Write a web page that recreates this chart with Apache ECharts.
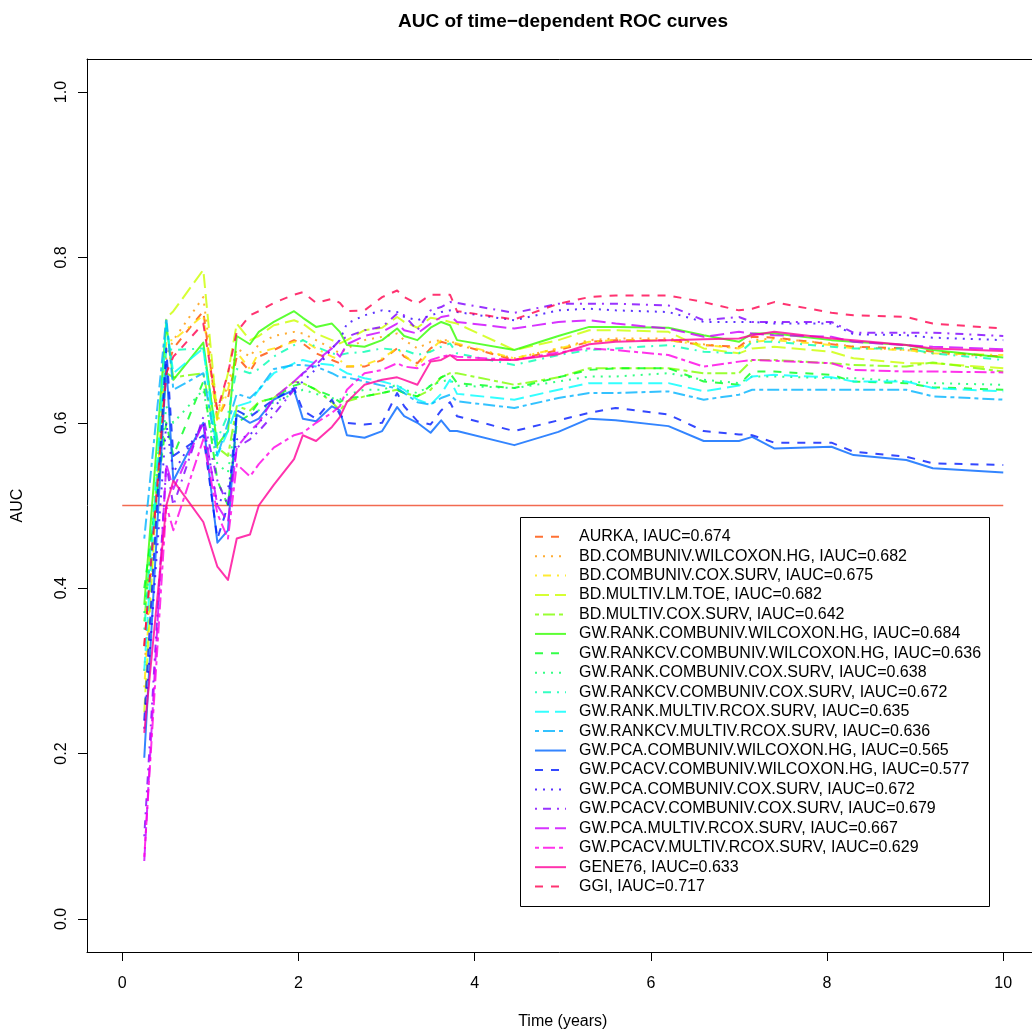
<!DOCTYPE html>
<html><head><meta charset="utf-8">
<script src="https://cdn.jsdelivr.net/npm/echarts@6/dist/echarts.min.js"></script>
<style>html,body{margin:0;padding:0;background:#fff}#c{width:1032px;height:1032px}</style>
</head><body><div id="c"></div>
<script>
// ---- data ----
const times = [0.25,0.5,0.58,0.92,1.08,1.2,1.3,1.45,1.55,1.72,1.95,2.05,2.2,2.38,2.47,2.55,2.75,2.95,3.12,3.2,3.35,3.5,3.62,3.72,3.8,4.45,4.95,5.3,5.6,6.2,6.6,7.0,7.15,7.4,8.05,8.3,8.9,9.2,10.0];

const aurka          = [0.33,0.66,0.69,0.735,0.605,0.63,0.68,0.662,0.68,0.688,0.70,0.696,0.684,0.676,0.672,0.668,0.668,0.676,0.69,0.68,0.672,0.69,0.698,0.695,0.695,0.676,0.688,0.698,0.70,0.70,0.694,0.692,0.704,0.703,0.695,0.692,0.69,0.686,0.68];
const bdCombWil      = [0.30,0.68,0.70,0.752,0.615,0.645,0.69,0.68,0.695,0.705,0.71,0.708,0.70,0.69,0.684,0.69,0.70,0.704,0.708,0.70,0.69,0.698,0.70,0.70,0.694,0.678,0.69,0.70,0.702,0.702,0.695,0.69,0.70,0.702,0.696,0.692,0.688,0.684,0.68];
const bdCombCox      = [0.28,0.70,0.70,0.73,0.60,0.64,0.685,0.665,0.685,0.69,0.698,0.70,0.69,0.68,0.676,0.668,0.67,0.678,0.69,0.682,0.668,0.688,0.70,0.698,0.696,0.678,0.69,0.698,0.70,0.70,0.694,0.69,0.698,0.70,0.694,0.69,0.688,0.684,0.682];
const bdMultLm       = [0.25,0.727,0.735,0.785,0.607,0.66,0.72,0.70,0.705,0.718,0.724,0.72,0.708,0.70,0.696,0.70,0.712,0.715,0.728,0.722,0.715,0.727,0.725,0.722,0.72,0.688,0.70,0.712,0.712,0.71,0.69,0.684,0.69,0.692,0.686,0.678,0.672,0.672,0.666];
const bdMultCox      = [0.36,0.66,0.655,0.66,0.57,0.56,0.62,0.615,0.625,0.63,0.65,0.648,0.64,0.625,0.615,0.626,0.632,0.636,0.64,0.636,0.632,0.64,0.655,0.66,0.66,0.646,0.655,0.666,0.666,0.666,0.66,0.66,0.676,0.676,0.672,0.67,0.668,0.673,0.662];
const gwRankCombWil  = [0.38,0.72,0.652,0.697,0.573,0.59,0.705,0.695,0.71,0.722,0.735,0.727,0.716,0.72,0.71,0.694,0.692,0.70,0.714,0.705,0.70,0.715,0.722,0.718,0.70,0.688,0.705,0.716,0.716,0.715,0.706,0.698,0.708,0.708,0.70,0.698,0.694,0.688,0.679];
const gwRankcvCombWil= [0.40,0.60,0.56,0.65,0.53,0.50,0.60,0.61,0.625,0.63,0.645,0.648,0.64,0.632,0.625,0.63,0.632,0.636,0.64,0.636,0.632,0.645,0.655,0.66,0.648,0.642,0.655,0.664,0.666,0.666,0.65,0.646,0.662,0.662,0.658,0.65,0.648,0.643,0.64];
const gwRankCombCox  = [0.37,0.62,0.60,0.64,0.55,0.54,0.61,0.61,0.615,0.625,0.635,0.64,0.635,0.63,0.628,0.634,0.64,0.64,0.646,0.64,0.636,0.645,0.65,0.652,0.645,0.642,0.65,0.656,0.656,0.66,0.652,0.648,0.656,0.656,0.654,0.654,0.65,0.648,0.646];
const gwRankcvCombCox= [0.35,0.69,0.688,0.69,0.58,0.61,0.665,0.66,0.665,0.68,0.694,0.70,0.692,0.684,0.682,0.684,0.686,0.69,0.688,0.688,0.682,0.686,0.692,0.696,0.684,0.67,0.682,0.688,0.69,0.694,0.686,0.684,0.698,0.698,0.692,0.69,0.69,0.684,0.676];
const gwRankMultRcox = [0.30,0.72,0.66,0.69,0.56,0.59,0.62,0.625,0.64,0.66,0.672,0.676,0.672,0.67,0.665,0.66,0.654,0.65,0.645,0.64,0.628,0.622,0.635,0.652,0.635,0.628,0.64,0.648,0.648,0.648,0.638,0.645,0.656,0.658,0.655,0.65,0.65,0.642,0.638];
const gwRankcvMultRcox=[0.46,0.727,0.64,0.66,0.56,0.60,0.635,0.63,0.64,0.665,0.67,0.67,0.668,0.66,0.655,0.655,0.65,0.645,0.642,0.636,0.625,0.622,0.63,0.634,0.626,0.618,0.63,0.636,0.636,0.638,0.628,0.634,0.64,0.64,0.64,0.64,0.64,0.632,0.628];
const gwPcaCombWil   = [0.195,0.67,0.53,0.60,0.455,0.47,0.61,0.60,0.605,0.628,0.64,0.605,0.602,0.62,0.615,0.585,0.582,0.59,0.619,0.608,0.60,0.588,0.603,0.59,0.59,0.573,0.589,0.605,0.603,0.596,0.578,0.578,0.583,0.569,0.571,0.561,0.555,0.545,0.54];
const gwPcacvCombWil = [0.24,0.69,0.56,0.585,0.46,0.50,0.615,0.607,0.615,0.628,0.642,0.615,0.605,0.628,0.61,0.60,0.598,0.60,0.636,0.62,0.602,0.598,0.615,0.625,0.608,0.59,0.603,0.612,0.618,0.61,0.59,0.586,0.585,0.576,0.576,0.565,0.559,0.551,0.549];
const gwPcaCombCox   = [0.23,0.60,0.54,0.60,0.50,0.52,0.58,0.585,0.60,0.62,0.64,0.65,0.665,0.69,0.70,0.72,0.73,0.736,0.734,0.728,0.724,0.73,0.734,0.736,0.734,0.724,0.736,0.738,0.736,0.734,0.722,0.722,0.722,0.72,0.72,0.707,0.706,0.703,0.70];
const gwPcacvCombCox = [0.10,0.55,0.50,0.607,0.53,0.50,0.57,0.58,0.59,0.61,0.64,0.66,0.67,0.69,0.70,0.704,0.712,0.716,0.732,0.73,0.712,0.736,0.74,0.746,0.745,0.733,0.744,0.744,0.744,0.742,0.724,0.728,0.722,0.722,0.722,0.709,0.709,0.709,0.705];
const gwPcaMultRcox  = [0.07,0.55,0.52,0.60,0.50,0.48,0.57,0.59,0.60,0.63,0.65,0.66,0.675,0.69,0.68,0.695,0.705,0.71,0.72,0.712,0.708,0.72,0.728,0.73,0.722,0.714,0.722,0.724,0.72,0.714,0.704,0.71,0.708,0.706,0.704,0.698,0.694,0.692,0.689];
const gwPcacvMultRcox= [0.075,0.50,0.47,0.58,0.49,0.46,0.55,0.535,0.55,0.57,0.585,0.588,0.60,0.612,0.62,0.64,0.66,0.664,0.672,0.668,0.666,0.676,0.68,0.682,0.68,0.676,0.685,0.69,0.688,0.682,0.668,0.674,0.676,0.675,0.672,0.664,0.662,0.662,0.661];
const gene76         = [0.225,0.50,0.53,0.48,0.426,0.41,0.46,0.465,0.50,0.525,0.556,0.585,0.578,0.595,0.607,0.625,0.646,0.652,0.655,0.652,0.646,0.674,0.676,0.682,0.676,0.676,0.683,0.695,0.698,0.70,0.701,0.702,0.706,0.71,0.702,0.70,0.694,0.69,0.687];
const ggi            = [0.33,0.66,0.68,0.72,0.615,0.66,0.71,0.73,0.735,0.745,0.755,0.758,0.745,0.75,0.745,0.735,0.736,0.752,0.76,0.752,0.744,0.755,0.755,0.755,0.735,0.725,0.744,0.752,0.754,0.754,0.746,0.736,0.738,0.746,0.733,0.73,0.728,0.72,0.714];

const seriesNames = [
  'AURKA, IAUC=0.674',
  'BD.COMBUNIV.WILCOXON.HG, IAUC=0.682',
  'BD.COMBUNIV.COX.SURV, IAUC=0.675',
  'BD.MULTIV.LM.TOE, IAUC=0.682',
  'BD.MULTIV.COX.SURV, IAUC=0.642',
  'GW.RANK.COMBUNIV.WILCOXON.HG, IAUC=0.684',
  'GW.RANKCV.COMBUNIV.WILCOXON.HG, IAUC=0.636',
  'GW.RANK.COMBUNIV.COX.SURV, IAUC=0.638',
  'GW.RANKCV.COMBUNIV.COX.SURV, IAUC=0.672',
  'GW.RANK.MULTIV.RCOX.SURV, IAUC=0.635',
  'GW.RANKCV.MULTIV.RCOX.SURV, IAUC=0.636',
  'GW.PCA.COMBUNIV.WILCOXON.HG, IAUC=0.565',
  'GW.PCACV.COMBUNIV.WILCOXON.HG, IAUC=0.577',
  'GW.PCA.COMBUNIV.COX.SURV, IAUC=0.672',
  'GW.PCACV.COMBUNIV.COX.SURV, IAUC=0.679',
  'GW.PCA.MULTIV.RCOX.SURV, IAUC=0.667',
  'GW.PCACV.MULTIV.RCOX.SURV, IAUC=0.629',
  'GENE76, IAUC=0.633',
  'GGI, IAUC=0.717'
];
const seriesValues = [aurka,bdCombWil,bdCombCox,bdMultLm,bdMultCox,gwRankCombWil,gwRankcvCombWil,gwRankCombCox,gwRankcvCombCox,gwRankMultRcox,gwRankcvMultRcox,gwPcaCombWil,gwPcacvCombWil,gwPcaCombCox,gwPcacvCombCox,gwPcaMultRcox,gwPcacvMultRcox,gene76,ggi];
const refLevel = 0.5;
const xTickRange = [0, 10, 2];     // min, max, step of x tick labels
const yTickRange = [0, 1, 0.2];    // min, max, step of y tick labels

// ---- styles ----
const colors = ['#FF4D00','#FF9900','#FFE600','#CCFF00','#80FF00','#33FF00','#00FF1A','#00FF66','#00FFB3','#00FFFF',
                '#00B3FF','#0066FF','#001AFF','#3300FF','#8000FF','#CC00FF','#FF00E6','#FF0099','#FF004D'];
const DASH = {solid:'solid', dashed:[8,8], dotted:[2,6], dotdash:[2,6,8,6], longdash:[14,6], twodash:[4,4,12,4]};
const ltyCycle = ['dashed','dotted','dotdash','longdash','twodash','solid'];
function rgba(hex, a){const n=parseInt(hex.slice(1),16);return `rgba(${n>>16},${(n>>8)&255},${n&255},${a})`;}

const FONT = 'Liberation Sans, Arial, Helvetica, sans-serif';
const chart = echarts.init(document.getElementById('c'), null, {renderer:'canvas'});

const series = [{
  type:'line', name:'ref', data:[[0,refLevel],[10,refLevel]], symbol:'none', silent:true,
  lineStyle:{color:'#F26A50', width:1.5}, itemStyle:{color:'#F26A50'}, z:1
}];
seriesValues.forEach((vals, i) => {
  const c = rgba(colors[i], 0.8);
  series.push({
    type:'line', name:seriesNames[i], data: times.map((t,k)=>[t, vals[k]]),
    symbol:'none', showSymbol:false,
    lineStyle:{color:c, width:2, type:DASH[ltyCycle[i % 6]], cap:'butt', join:'round'},
    itemStyle:{color:c}, z:2
  });
});

// Plot frame: x from -0.4..10.4, y from -0.04..1.04 (R's 4% padding)
const XMIN = -0.4, XMAX = 10.4, YMIN = -0.04, YMAX = 1.04;
const PL = 87, PT = 59, PW = 951.5, PH = 893;
const pxX = v => PL + (v - XMIN) / (XMAX - XMIN) * PW;
const pxY = v => PT + (YMAX - v) / (YMAX - YMIN) * PH;

const axisText = {fontSize:16, fontFamily:FONT, color:'#000'};
const hidden = {show:false};
chart.setOption({
  animation:false,
  backgroundColor:'#fff',
  title:{text:'AUC of time\u2212dependent ROC curves', left:558, top:7, textAlign:'center',
    textStyle:{fontSize:19, fontWeight:'bold', fontFamily:FONT, color:'#000'}},
  grid:[
    {left:PL, top:PT, width:PW, height:PH, outerBoundsMode:'none'},
    // tick grid for x: spans exactly the tick range horizontally
    {left:pxX(xTickRange[0]), width:pxX(xTickRange[1]) - pxX(xTickRange[0]), top:PT, height:PH, outerBoundsMode:'none'},
    // tick grid for y: spans exactly the tick range vertically
    {left:PL, width:PW, top:pxY(yTickRange[1]), height:pxY(yTickRange[0]) - pxY(yTickRange[1]), outerBoundsMode:'none'}
  ],
  xAxis:[
    {gridIndex:0, type:'value', min:XMIN, max:XMAX, position:'bottom',
     name:'Time (years)', nameLocation:'middle', nameGap:62, nameTextStyle:axisText,
     axisLine:{show:true, onZero:false, lineStyle:{color:'#000', width:1}},
     axisTick:hidden, axisLabel:hidden, splitLine:hidden},
    {gridIndex:0, type:'value', min:XMIN, max:XMAX, position:'top',
     axisLine:{show:true, onZero:false, lineStyle:{color:'#000', width:1}},
     axisTick:hidden, axisLabel:hidden, splitLine:hidden},
    {gridIndex:1, type:'value', min:xTickRange[0], max:xTickRange[1], interval:xTickRange[2], position:'bottom',
     axisLine:{show:false}, splitLine:hidden,
     axisTick:{show:true, length:9, lineStyle:{color:'#000', width:1}},
     axisLabel:Object.assign({margin:24}, axisText)},
    {gridIndex:2, type:'value', min:0, max:1, show:false}
  ],
  yAxis:[
    {gridIndex:0, type:'value', min:YMIN, max:YMAX, position:'left',
     name:'AUC', nameLocation:'middle', nameGap:61, nameRotate:90, nameTextStyle:axisText,
     axisLine:{show:true, onZero:false, lineStyle:{color:'#000', width:1}},
     axisTick:hidden, axisLabel:hidden, splitLine:hidden},
    {gridIndex:1, type:'value', min:0, max:1, show:false},
    {gridIndex:2, type:'value', min:yTickRange[0], max:yTickRange[1], interval:yTickRange[2], position:'left',
     axisLine:{show:false}, splitLine:hidden,
     axisTick:{show:true, length:9, lineStyle:{color:'#000', width:1}},
     axisLabel:Object.assign({rotate:90, margin:17, formatter:v=>v.toFixed(1)}, axisText)}
  ],
  legend:{orient:'vertical', left:534, top:528.7, padding:0, itemWidth:31, itemHeight:14, itemGap:3.44,
    data:seriesNames, selectedMode:false,
    itemStyle:{color:'rgba(0,0,0,0)', borderWidth:0, opacity:0},
    textStyle:{fontSize:16, fontFamily:FONT, color:'#000', lineHeight:16, padding:[0,0,0,8]}},
  graphic:[{type:'rect', shape:{x:520.5, y:517.5, width:469, height:389}, style:{fill:null, stroke:'#000', lineWidth:1}, z:100}],
  series: series.map(s => Object.assign({xAxisIndex:0, yAxisIndex:0}, s))
});
</script>
</body></html>
